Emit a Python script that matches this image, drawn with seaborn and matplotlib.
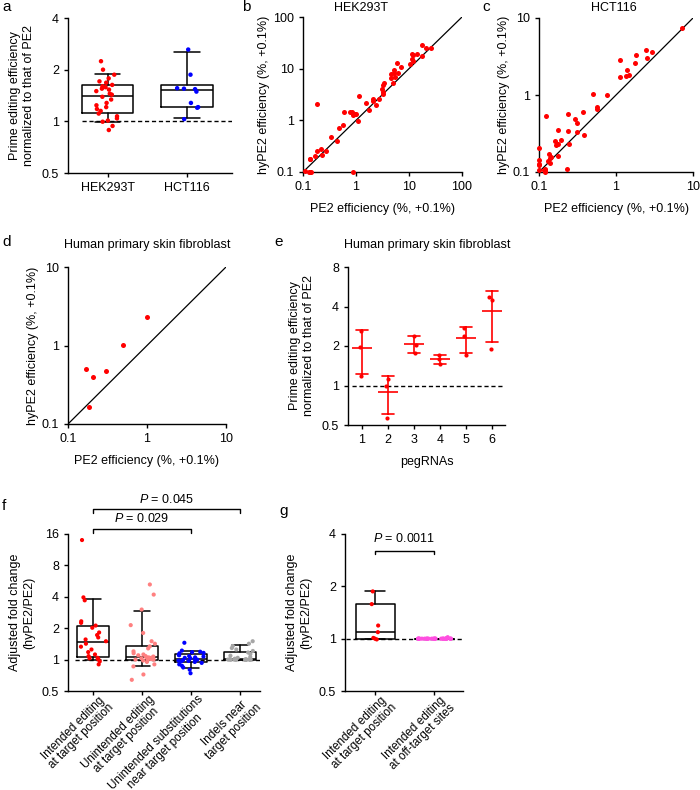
import numpy as np
import pandas as pd
import matplotlib
matplotlib.use("Agg")
import matplotlib.pyplot as plt
from matplotlib.ticker import NullLocator
import seaborn as sns

# ---------------- data ----------------
# a: prime editing efficiency of hyPE2 normalized to PE2
a_cells = ["HEK293T", "HCT116"]
a_hek293t = [0.89, 0.94, 0.995, 1.01, 1.04, 1.07, 1.11, 1.15, 1.18, 1.21, 1.24, 1.28, 1.34, 1.39,
             1.43, 1.45, 1.50, 1.53, 1.55, 1.58, 1.60, 1.63, 1.68, 1.71, 1.78, 1.87, 2.00, 2.24]
a_hct116 = [1.03, 1.20, 1.21, 1.28, 1.49, 1.54, 1.55, 1.56, 1.87, 2.62]

# b: HEK293T, PE2 vs hyPE2 efficiency (%, +0.1%)
b_pe2 = [0.11, 0.13, 0.135, 0.14, 0.137, 0.138, 0.17, 0.184, 0.18, 0.22, 0.23, 0.27, 0.34, 0.44,
         0.48, 0.57, 0.59, 0.76, 0.85, 0.88, 0.94, 1.0, 0.86, 1.1, 1.13, 1.54, 1.75, 2.05, 2.1,
         2.4, 2.7, 3.1, 3.2, 3.3, 3.3, 3.4, 4.5, 4.5, 5.0, 5.2, 5.3, 5.4, 5.9, 6.1, 7.0, 10.5,
         11.3, 11.3, 12.1, 12.1, 14.0, 17.6, 17.6, 21.2, 25.6]
b_hype2 = [0.105, 0.10, 0.10, 0.10, 0.18, 0.175, 0.20, 2.07, 0.26, 0.28, 0.21, 0.26, 0.47, 0.40,
           0.70, 0.83, 1.42, 1.47, 1.47, 1.25, 1.35, 1.30, 0.10, 0.97, 2.96, 2.2, 1.6, 2.6, 2.4,
           2.0, 2.6, 4.0, 3.5, 3.2, 4.8, 5.2, 7.9, 6.5, 5.2, 9.5, 8.4, 6.8, 12.7, 8.4, 11.0, 12.4,
           15.3, 19.4, 18.5, 13.9, 19.4, 29.0, 17.2, 25.0, 25.6]

# c: HCT116
c_pe2 = [0.1, 0.1, 0.1, 0.1, 0.1, 0.115, 0.118, 0.12, 0.12, 0.124, 0.13, 0.134, 0.14, 0.137,
         0.144, 0.159, 0.164, 0.17, 0.179, 0.179, 0.175, 0.194, 0.23, 0.24, 0.236, 0.247, 0.29,
         0.31, 0.31, 0.37, 0.38, 0.51, 0.57, 0.57, 0.77, 1.14, 1.14, 1.35, 1.37, 1.49, 1.74, 1.81,
         2.47, 2.5, 2.92, 7.2]
c_hype2 = [0.205, 0.145, 0.128, 0.122, 0.107, 0.105, 0.1, 0.11, 0.105, 0.54, 0.14, 0.17, 0.15,
           0.13, 0.156, 0.25, 0.226, 0.23, 0.35, 0.23, 0.163, 0.26, 0.109, 0.56, 0.34, 0.23, 0.49,
           0.33, 0.43, 0.61, 0.30, 1.03, 0.69, 0.65, 1.0, 2.86, 1.71, 1.74, 2.14, 1.8, 2.6, 3.3,
           3.85, 3.0, 3.58, 7.4]

# d: human primary skin fibroblast
d_pe2 = [0.171, 0.207, 0.185, 0.30, 0.50, 1.01]
d_hype2 = [0.50, 0.394, 0.163, 0.475, 1.02, 2.30]

# e: per pegRNA, three replicates
e_pegrnas = ["1", "2", "3", "4", "5", "6"]
e_values = [[2.60, 1.97, 1.19],
            [1.12, 0.99, 0.566],
            [2.40, 2.05, 1.77],
            [1.70, 1.60, 1.45],
            [2.75, 2.38, 1.72],
            [4.69, 4.47, 1.91]]

# f: adjusted fold change
f_cats = ["Intended editing\nat target position", "Unintended editing\nat target position",
          "Unintended substitutions\nnear target position", "Indels near\ntarget position"]
f_intended = [0.90, 0.96, 1.01, 1.01, 1.03, 1.04, 1.08, 1.12, 1.18, 1.25, 1.33, 1.42, 1.50, 1.56,
              1.63, 1.72, 1.82, 2.02, 2.12, 2.25, 2.33, 3.70, 3.95, 14.0]
f_unintended = [0.64, 0.72, 0.86, 0.90, 0.95, 0.98, 0.99, 1.00, 1.00, 1.01, 1.02, 1.03, 1.04, 1.05,
                1.05, 1.07, 1.08, 1.10, 1.12, 1.15, 1.20, 1.28, 1.34, 1.42, 1.50, 1.80, 2.14, 3.02,
                4.20, 5.25]
f_substitutions = [0.74, 0.80, 0.84, 0.87, 0.90, 0.93, 0.95, 0.96, 0.97, 0.98, 0.99, 1.00, 1.01,
                   1.03, 1.04, 1.05, 1.07, 1.08, 1.10, 1.11, 1.15, 1.16, 1.18, 1.19, 1.22, 1.45]
f_indels = [1.00] * 13 + [1.01, 1.02, 1.04, 1.06, 1.09, 1.13, 1.17, 1.21, 1.25, 1.29, 1.35, 1.42, 1.50]
f_colors = ["#ff0000", "#ff8080", "#0000ff", "#a6a6a6"]
f_pvalues = ["0.029", "0.045"]

# g
g_cats = ["Intended editing\nat target position", "Intended editing\nat off-target sites"]
g_target = [0.99, 1.00, 1.01, 1.09, 1.19, 1.58, 1.87]
g_offtarget = [1.00] * 29 + [1.02]
g_colors = ["#ff0000", "#ff4fe0"]
g_pvalue = "0.0011"

# ---------------- style ----------------
sns.set_theme(style="ticks")
plt.rcParams["font.family"] = ["Liberation Sans", "DejaVu Sans"]
plt.rcParams.update({
    "font.size": 9, "axes.labelsize": 9, "xtick.labelsize": 9, "ytick.labelsize": 9,
    "axes.linewidth": 1.0, "axes.edgecolor": "black", "axes.labelcolor": "black",
    "xtick.color": "black", "ytick.color": "black", "text.color": "black",
    "xtick.major.width": 1.0, "ytick.major.width": 1.0,
    "xtick.major.size": 3, "ytick.major.size": 3,
    "mathtext.fontset": "custom", "mathtext.it": "Liberation Sans:italic",
    "mathtext.rm": "Liberation Sans",
})
np.random.seed(3)

W, H = 700, 790
fig = plt.figure(figsize=(7, 7.9), dpi=100)


def add_ax(x0, y0, x1, y1):
    ax = fig.add_axes([x0 / W, 1 - y1 / H, (x1 - x0) / W, (y1 - y0) / H])
    sns.despine(ax=ax)
    return ax


def log2_y(ax, ticks):
    ax.set_yscale("log", base=2)
    ax.set_ylim(ticks[0], ticks[-1])
    ax.set_yticks(ticks)
    ax.set_yticklabels([f"{t:g}" for t in ticks])
    ax.yaxis.set_minor_locator(NullLocator())


def log10_xy(ax, ticks):
    ax.set_xscale("log")
    ax.set_yscale("log")
    ax.set_xlim(ticks[0], ticks[-1])
    ax.set_ylim(ticks[0], ticks[-1])
    ax.set_xticks(ticks)
    ax.set_yticks(ticks)
    ax.set_xticklabels([f"{t:g}" for t in ticks])
    ax.set_yticklabels([f"{t:g}" for t in ticks])
    ax.xaxis.set_minor_locator(NullLocator())
    ax.yaxis.set_minor_locator(NullLocator())


def box_stats(values):
    # Prism-style box: quartiles, whiskers at 10-90 percentile ((n+1)p method)
    v = np.asarray(values, dtype=float)
    lo, q1, med, q3, hi = np.percentile(v, [10, 25, 50, 75, 90], method="weibull")
    return dict(whislo=lo, q1=q1, med=med, q3=q3, whishi=hi, fliers=[])


def draw_boxes(ax, groups, width):
    line = dict(color="black", linewidth=1.1)
    ax.bxp([box_stats(g) for g in groups], positions=np.arange(len(groups)), widths=width,
           showfliers=False, manage_ticks=False, boxprops=line, whiskerprops=line,
           capprops=line, medianprops=line, zorder=2)


def draw_points(ax, cats, groups, colors, jitter, size, order=None):
    df = pd.DataFrame({"cat": np.repeat(cats, [len(g) for g in groups]),
                       "val": np.concatenate(groups)})
    sns.stripplot(data=df, x="cat", y="val", hue="cat", order=order or cats, hue_order=cats,
                  palette=colors, jitter=jitter, size=size, linewidth=0, legend=False,
                  ax=ax, zorder=3)


def scatter_panel(ax, x, y, ticks):
    sns.scatterplot(x=x, y=y, color="#ff0000", s=13, linewidth=0, ax=ax, clip_on=False, zorder=3)
    log10_xy(ax, ticks)
    ax.plot([ticks[0], ticks[-1]], [ticks[0], ticks[-1]], color="black", lw=0.9, zorder=2)
    ax.set_xlabel("PE2 efficiency (%, +0.1%)", labelpad=7)
    ax.set_ylabel("hyPE2 efficiency (%, +0.1%)", labelpad=2)


def dashed_one(ax, xmin):
    ax.axhline(1, xmin=xmin, color="black", lw=1.0, ls=(0, (3, 2)), zorder=1)


def bracket(ax, x0, x1, y, text, ty, drop=0.025):
    tr = ax.get_xaxis_transform()
    ax.plot([x0, x0, x1, x1], [y - drop, y, y, y - drop], color="black", lw=1.0,
            transform=tr, clip_on=False)
    ax.text((x0 + x1) / 2, ty, "$P$ = " + text, transform=tr, ha="center", va="center",
            fontsize=9)


def rotated_labels(ax, cats):
    # tick marks only; the two-line labels are placed a little right of each tick
    ax.set_xticks(range(len(cats)))
    ax.set_xticklabels([""] * len(cats))
    for i, cat in enumerate(cats):
        ax.annotate(cat, xy=(i, 0), xycoords=ax.get_xaxis_transform(), xytext=(4.5, -1.5),
                    textcoords="offset points", rotation=45, ha="right", va="top",
                    rotation_mode="anchor", ma="center", fontsize=8.4, linespacing=1.05)
    ax.set_xlabel("")


# ---------------- a ----------------
ax = add_ax(68, 18, 232, 173)
draw_boxes(ax, [a_hek293t, a_hct116], 0.65)
draw_points(ax, a_cells, [a_hek293t, a_hct116], ["#ff0000", "#0000ff"], 0.15, 3.2)
log2_y(ax, [0.5, 1, 2, 4])
dashed_one(ax, 0.085)
ax.set_xlim(-0.5, 1.57)
ax.set_xticks(range(len(a_cells)))
ax.set_xticklabels(a_cells)
ax.set_xlabel("")
ax.set_ylabel("Prime editing efficiency\nnormalized to that of PE2", labelpad=5)

# ---------------- b / c / d ----------------
ax = add_ax(303, 17, 462, 172)
scatter_panel(ax, b_pe2, b_hype2, [0.1, 1, 10, 100])
ax = add_ax(539, 18, 693, 172)
scatter_panel(ax, c_pe2, c_hype2, [0.1, 1, 10])
ax = add_ax(68, 267, 226, 424)
scatter_panel(ax, d_pe2, d_hype2, [0.1, 1, 10])

# ---------------- e ----------------
ax = add_ax(348, 267, 505, 425)
e_df = pd.DataFrame({"peg": np.repeat(e_pegrnas, [len(v) for v in e_values]),
                     "val": np.concatenate(e_values)})
sns.pointplot(data=e_df, x="peg", y="val", order=e_pegrnas, estimator="mean", errorbar="sd",
              color="#ff0000", markers="_", linestyles="none", capsize=0.45,
              err_kws={"linewidth": 1.2}, markersize=15, markeredgewidth=1.2, ax=ax, zorder=3)
sns.stripplot(data=e_df, x="peg", y="val", order=e_pegrnas, color="#ff0000", jitter=0.13,
              size=3, linewidth=0, ax=ax, zorder=4)
log2_y(ax, [0.5, 1, 2, 4, 8])
dashed_one(ax, 0.025)
ax.set_xlim(-0.54, 5.5)
ax.set_xlabel("pegRNAs", labelpad=7)
ax.set_ylabel("Prime editing efficiency\nnormalized to that of PE2", labelpad=5)

# ---------------- f ----------------
ax = add_ax(68, 534, 260, 691)
f_groups = [f_intended, f_unintended, f_substitutions, f_indels]
draw_boxes(ax, f_groups, 0.67)
draw_points(ax, f_cats, f_groups, f_colors, 0.28, 3.0)
log2_y(ax, [0.5, 1, 2, 4, 8, 16])
dashed_one(ax, 0.036)
ax.set_xlim(-0.51, 3.41)
rotated_labels(ax, f_cats)
ax.set_ylabel("Adjusted fold change\n(hyPE2/PE2)", labelpad=5)
bracket(ax, 0, 2, 1.032, f_pvalues[0], 1.10)
bracket(ax, 0, 3, 1.159, f_pvalues[1], 1.22)

# ---------------- g ----------------
ax = add_ax(345, 534, 463, 691)
g_groups = [g_target, g_offtarget]
draw_boxes(ax, g_groups, 0.66)
draw_points(ax, g_cats[:1], g_groups[:1], g_colors[:1], 0.07, 3.0, order=g_cats)
draw_points(ax, g_cats[1:], g_groups[1:], g_colors[1:], 0.3, 3.0, order=g_cats)
log2_y(ax, [0.5, 1, 2, 4])
dashed_one(ax, 0.01)
ax.set_xlim(-0.51, 1.49)
rotated_labels(ax, g_cats)
ax.set_ylabel("Adjusted fold change\n(hyPE2/PE2)", labelpad=5)
bracket(ax, 0, 1, 0.892, g_pvalue, 0.97, drop=0.02)

# ---------------- titles & panel letters ----------------
fig.text(361 / W, 1 - 8 / H, "HEK293T", ha="center", va="center", fontsize=9)
fig.text(614 / W, 1 - 8 / H, "HCT116", ha="center", va="center", fontsize=9)
fig.text(147 / W, 1 - 245 / H, "Human primary skin fibroblast", ha="center", va="center", fontsize=9)
fig.text(427 / W, 1 - 245 / H, "Human primary skin fibroblast", ha="center", va="center", fontsize=9)
for letter, x, y in [("a", 2, 11), ("b", 242, 11), ("c", 482, 11), ("d", 2, 246),
                     ("e", 274, 246), ("f", 2, 510), ("g", 279, 515)]:
    fig.text(x / W, 1 - y / H, letter, ha="left", va="baseline", fontsize=11)

fig.savefig("out.png", dpi=100)
